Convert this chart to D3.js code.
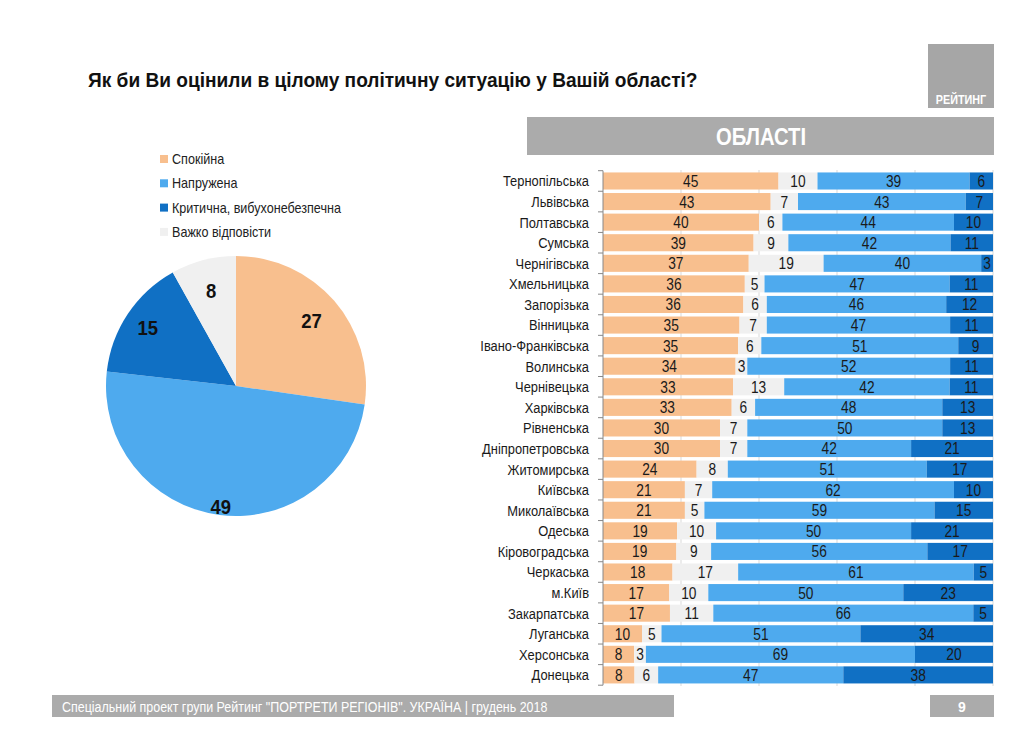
<!DOCTYPE html>
<html>
<head>
<meta charset="utf-8">
<script src="https://cdn.jsdelivr.net/npm/d3@7"></script>
<style>
  body { margin: 0; background: #fff; }
  svg { display: block; font-family: "Liberation Sans Narrow", "Arial Narrow", "Liberation Sans", Arial, sans-serif; }
</style>
</head>
<body>
<svg id="chart" width="1024" height="732"></svg>
<script>
// pie (загальна оцінка)
const pieLabels = ["Спокійна", "Напружена", "Критична, вибухонебезпечна", "Важко відповісти"];
const pieValues = [27, 49, 15, 8];

// області
const regions = ["Тернопільська", "Львівська", "Полтавська", "Сумська", "Чернігівська", "Хмельницька",
  "Запорізька", "Вінницька", "Івано-Франківська", "Волинська", "Чернівецька", "Харківська",
  "Рівненська", "Дніпропетровська", "Житомирська", "Київська", "Миколаївська", "Одеська",
  "Кіровоградська", "Черкаська", "м.Київ", "Закарпатська", "Луганська", "Херсонська", "Донецька"];
const calm     = [45, 43, 40, 39, 37, 36, 36, 35, 35, 34, 33, 33, 30, 30, 24, 21, 21, 19, 19, 18, 17, 17, 10, 8, 8];
const hardSay  = [10, 7, 6, 9, 19, 5, 6, 7, 6, 3, 13, 6, 7, 7, 8, 7, 5, 10, 9, 17, 10, 11, 5, 3, 6];
const tense    = [39, 43, 44, 42, 40, 47, 46, 47, 51, 52, 42, 48, 50, 42, 51, 62, 59, 50, 56, 61, 50, 66, 51, 69, 47];
const critical = [6, 7, 10, 11, 3, 11, 12, 11, 9, 11, 11, 13, 13, 21, 17, 10, 15, 21, 17, 5, 23, 5, 34, 20, 38];

// порядок сегментів у смузі
const segKeys = ["calm", "hard", "tense", "crit"];
const colors = { calm: "#F8BF8E", tense: "#4EAAEE", crit: "#1070C4", hard: "#F0F0F0" };
const pieColors = [colors.calm, colors.tense, colors.crit, colors.hard];

const svg = d3.select("#chart");

// шрифт вузький недоступний — стискаємо по горизонталі
function narrow(sel, x, y, sx) {
  return sel.attr("transform", `translate(${x},${y}) scale(${sx},1)`);
}

// title
narrow(svg.append("text"), 88, 87, 0.91)
  .attr("font-size", "21px").attr("font-weight", "700").attr("fill", "#111")
  .text("Як би Ви оцінили в цілому політичну ситуацію у Вашій області?");

// logo
svg.append("rect").attr("x", 928).attr("y", 44).attr("width", 66).attr("height", 64).attr("fill", "#A6A6A6");
narrow(svg.append("text"), 961, 104, 0.9).attr("text-anchor", "middle")
  .attr("font-size", "12px").attr("font-weight", "700").attr("fill", "#fff").text("РЕЙТИНГ");

// header bar
svg.append("rect").attr("x", 527).attr("y", 117).attr("width", 467).attr("height", 38).attr("fill", "#ABABAB");
narrow(svg.append("text"), 761, 145, 0.88).attr("text-anchor", "middle")
  .attr("font-size", "23px").attr("font-weight", "700").attr("fill", "#fff").text("ОБЛАСТІ");

// legend
const legend = svg.append("g").attr("transform", "translate(160,159)");
pieLabels.forEach((name, i) => {
  const g = legend.append("g").attr("transform", `translate(0,${i * 24.3})`);
  g.append("rect").attr("x", 0).attr("y", -4).attr("width", 8).attr("height", 8).attr("fill", pieColors[i]);
  narrow(g.append("text"), 12, 5, 0.9).attr("font-size", "14px").attr("fill", "#222").text(name);
});

// pie
const cx = 236, cy = 386, r = 130;
const pie = d3.pie().sort(null).value(d => d)(pieValues);
const arc = d3.arc().innerRadius(0).outerRadius(r);
const labelR = [100, 121, 106, 99];
const pg = svg.append("g").attr("transform", `translate(${cx},${cy})`);
pg.selectAll("path").data(pie).enter().append("path")
  .attr("d", arc).attr("fill", (d, i) => pieColors[i]);
pg.selectAll("text").data(pie).enter().append("text")
  .attr("transform", (d, i) => {
    const a = (d.startAngle + d.endAngle) / 2;
    return `translate(${Math.sin(a) * labelR[i]},${-Math.cos(a) * labelR[i]}) scale(0.88,1)`;
  })
  .attr("text-anchor", "middle").attr("dy", "0.36em")
  .attr("font-size", "21px").attr("font-weight", "700").attr("fill", "#111")
  .text(d => d.data);

// bars
const rows = regions.map((name, i) => {
  const vals = { calm: calm[i], hard: hardSay[i], tense: tense[i], crit: critical[i] };
  const total = segKeys.reduce((s, k) => s + vals[k], 0);
  let acc = 0;
  const segs = segKeys.map(k => {
    const s = { key: k, value: vals[k], x0: acc / total * 100, x1: (acc + vals[k]) / total * 100 };
    acc += vals[k];
    return s;
  });
  return { name, segs };
});

const x = d3.scaleLinear().domain([0, 100]).range([603, 993]);
const y = d3.scaleBand().domain(regions).range([170.7, 685.2]).paddingInner(0.17).paddingOuter(0.085);

// grid
svg.append("g").selectAll("line").data([20, 40, 60, 80, 100]).enter().append("line")
  .attr("x1", d => x(d)).attr("x2", d => x(d))
  .attr("y1", 170).attr("y2", 686)
  .attr("stroke", "#D9D9D9").attr("stroke-width", 1);

const rowG = svg.append("g").selectAll("g").data(rows).enter().append("g")
  .attr("transform", d => `translate(0,${y(d.name)})`);

rowG.selectAll("rect").data(d => d.segs).enter().append("rect")
  .attr("x", d => x(d.x0)).attr("width", d => x(d.x1) - x(d.x0))
  .attr("y", 0).attr("height", y.bandwidth())
  .attr("fill", d => colors[d.key]);

rowG.selectAll("text").data(d => d.segs).enter().append("text")
  .attr("transform", d => `translate(${(x(d.x0) + x(d.x1)) / 2},${y.bandwidth() / 2}) scale(0.86,1)`)
  .attr("dy", "0.37em")
  .attr("text-anchor", "middle").attr("font-size", "16px").attr("fill", "#1a1a1a")
  .text(d => d.value);

// y axis
const yAxis = svg.append("g").attr("transform", "translate(603,0)");
yAxis.append("line").attr("x1", 0).attr("x2", 0).attr("y1", 170.7).attr("y2", 685.2).attr("stroke", "#888");
const step = y.step();
yAxis.selectAll("line.tick").data(d3.range(regions.length + 1)).enter().append("line")
  .attr("class", "tick")
  .attr("x1", -5).attr("x2", 0)
  .attr("y1", i => 170.7 + i * step).attr("y2", i => 170.7 + i * step)
  .attr("stroke", "#888");
yAxis.selectAll("text").data(regions).enter().append("text")
  .attr("transform", d => `translate(-14,${y(d) + y.bandwidth() / 2}) scale(0.86,1)`)
  .attr("dy", "0.36em")
  .attr("text-anchor", "end").attr("font-size", "15px").attr("fill", "#1a1a1a")
  .text(d => d);

// footer
svg.append("rect").attr("x", 52).attr("y", 695).attr("width", 622).attr("height", 22).attr("fill", "#ABABAB");
narrow(svg.append("text"), 62, 712, 0.86).attr("font-size", "14.5px").attr("fill", "#fff")
  .text("Спеціальний проект групи Рейтинг \"ПОРТРЕТИ РЕГІОНІВ\". УКРАЇНА | грудень 2018");
svg.append("rect").attr("x", 930).attr("y", 695).attr("width", 64).attr("height", 22).attr("fill", "#ABABAB");
svg.append("text").attr("x", 962).attr("y", 712).attr("text-anchor", "middle")
  .attr("font-size", "14px").attr("font-weight", "700").attr("fill", "#fff").text("9");
</script>
</body>
</html>
